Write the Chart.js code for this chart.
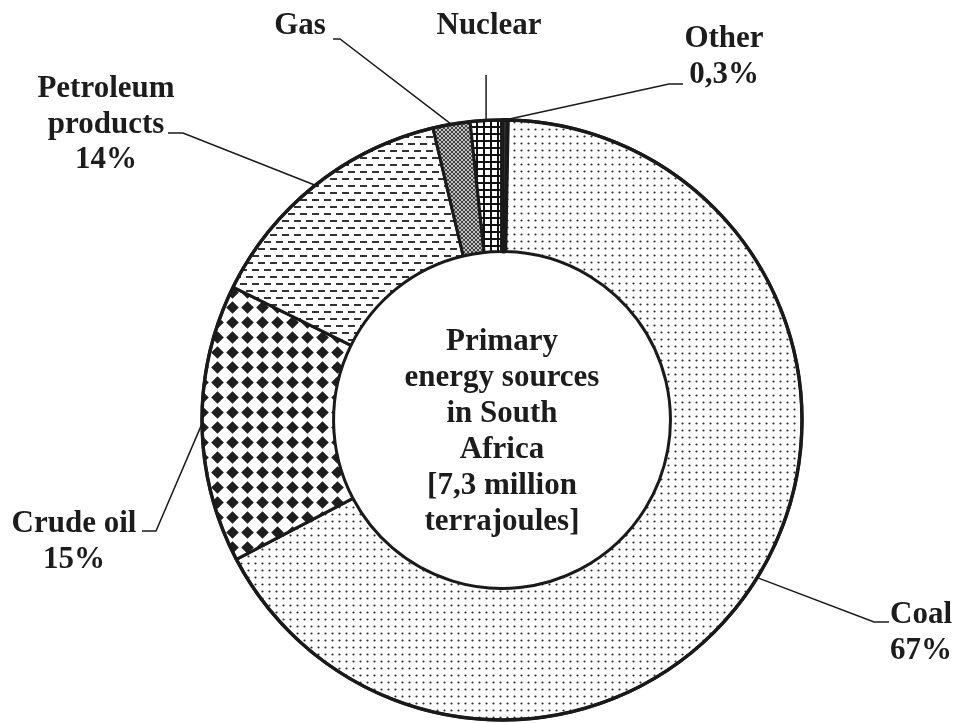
<!DOCTYPE html>
<html>
<head>
<meta charset="utf-8">
<script src="https://cdn.jsdelivr.net/npm/chart.js@4.4.1/dist/chart.umd.min.js"></script>
<style>
  body { margin: 0; background: #fff; }
</style>
</head>
<body>
<canvas id="donutChart" width="957" height="723"></canvas>
<script>
// data
const sources = ['Coal', 'Crude oil', 'Petroleum products', 'Gas', 'Nuclear', 'Other'];
const shares = [67, 15, 14, 2, 1.7, 0.3];
const shareText = ['67%', '15%', '14%', '', '', '0,3%'];
const centreText = ['Primary', 'energy sources', 'in South', 'Africa', '[7,3 million', 'terrajoules]'];

// where each outside label sits (x = centre of text, y = first baseline) and the bend of its leader line
const labelSpots = [
    { x: 921, y: 623, wrap: false, bend: [[874, 622], [889, 622]] },
    { x: 74, y: 532, wrap: false, bend: [[156, 531], [142, 531]] },
    { x: 106, y: 97, wrap: true, bend: [[183, 133], [168, 133]] },
    { x: 300, y: 34, wrap: false, bend: [[340, 39], [333, 39]] },
    { x: 489, y: 34, wrap: false, bend: 'up' },
    { x: 724, y: 47, wrap: false, bend: [[669, 84], [683, 84]] }
];

const ctx = document.getElementById('donutChart').getContext('2d');

// hatch fills like the printed original
function tile(w, h, draw) {
    const c = document.createElement('canvas');
    c.width = w;
    c.height = h;
    const g = c.getContext('2d');
    g.fillStyle = '#fff';
    g.fillRect(0, 0, w, h);
    draw(g);
    return ctx.createPattern(c, 'repeat');
}

const coalFill = tile(7, 7, g => {
    g.fillStyle = '#2e2e2e';
    g.beginPath();
    g.arc(3.5, 3.5, 1.1, 0, Math.PI * 2);
    g.fill();
});
const crudeFill = tile(15, 15, g => {
    g.fillStyle = '#1e1e1e';
    g.beginPath();
    g.moveTo(7.5, 1.2);
    g.lineTo(13.8, 7.5);
    g.lineTo(7.5, 13.8);
    g.lineTo(1.2, 7.5);
    g.closePath();
    g.fill();
});
const petrolFill = tile(12, 14, g => {
    g.fillStyle = '#333';
    g.fillRect(0, 3, 7, 2);
    g.fillRect(6, 10, 6, 2);
    g.fillRect(0, 10, 1, 2);
});
const gasFill = tile(4, 4, g => {
    g.fillStyle = '#bdbdbd';
    g.fillRect(0, 0, 4, 4);
    g.strokeStyle = '#444';
    g.lineWidth = 1;
    g.beginPath();
    g.moveTo(0, 0); g.lineTo(4, 4);
    g.moveTo(4, 0); g.lineTo(0, 4);
    g.stroke();
});
const nuclearFill = tile(7, 7, g => {
    g.fillStyle = '#111';
    g.fillRect(0, 0, 7, 2);
    g.fillRect(0, 0, 2, 7);
});

const labelFont = 'bold 31px "Liberation Serif", "Times New Roman", serif';

const annotate = {
    id: 'annotate',
    afterDatasetsDraw(chart) {
        const c = chart.ctx;
        const arcs = chart.getDatasetMeta(0).data;
        const cx = arcs[0].x, cy = arcs[0].y, r = arcs[0].outerRadius;

        // heavier outer rim
        c.save();
        c.strokeStyle = '#1a1a1a';
        c.lineWidth = 3.5;
        c.beginPath();
        c.arc(cx, cy, r, 0, Math.PI * 2);
        c.stroke();

        // leader lines + labels
        c.font = labelFont;
        c.fillStyle = '#1c1c1c';
        c.textAlign = 'center';
        c.textBaseline = 'alphabetic';
        c.lineWidth = 1.5;
        arcs.forEach((arc, i) => {
            const spot = labelSpots[i];
            const mid = (arc.startAngle + arc.endAngle) / 2;
            const ax = cx + Math.cos(mid) * r;
            const ay = cy + Math.sin(mid) * r;
            c.beginPath();
            c.moveTo(ax, ay);
            if (spot.bend === 'up') {
                c.lineTo(ax, spot.y + 41);
            } else {
                spot.bend.forEach(p => c.lineTo(p[0], p[1]));
            }
            c.stroke();

            const lines = spot.wrap ? sources[i].split(' ') : [sources[i]];
            if (shareText[i]) lines.push(shareText[i]);
            lines.forEach((t, k) => c.fillText(t, spot.x, spot.y + k * 35.5));
        });

        // text in the hole
        centreText.forEach((t, k) => c.fillText(t, cx, cy - 70 + k * 36));
        c.restore();
    }
};

new Chart(ctx, {
    type: 'doughnut',
    data: {
        labels: sources,
        datasets: [{
            data: shares,
            backgroundColor: [coalFill, crudeFill, petrolFill, gasFill, nuclearFill, '#333'],
            borderColor: '#1a1a1a',
            borderWidth: [3, 3, 3, 3, 3, 4]
        }]
    },
    options: {
        responsive: false,
        animation: false,
        rotation: 1.1,
        radius: 300,
        cutout: 169,
        layout: { padding: { left: 47, right: 0, top: 117, bottom: 0 } },
        plugins: {
            legend: { display: false },
            tooltip: { enabled: false }
        }
    },
    plugins: [annotate]
});
</script>
</body>
</html>
